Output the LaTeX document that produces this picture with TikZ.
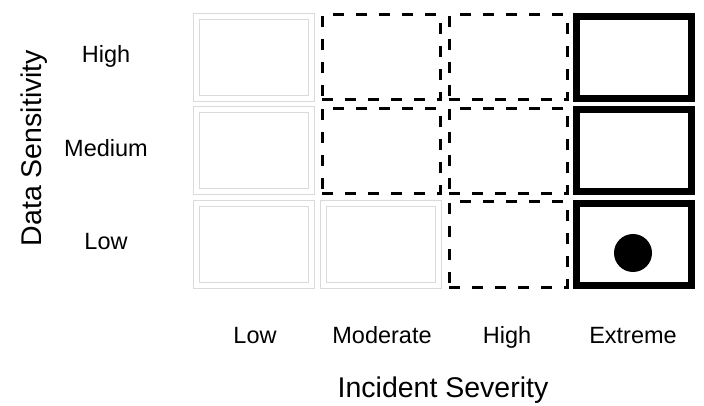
\documentclass[tikz,border=0pt]{standalone}
\usepackage{fontspec}
\setmainfont{Liberation Sans}
\usepackage{tikz}
\usepackage{xcolor}
\usetikzlibrary{positioning}
\definecolor{cellgray}{RGB}{218,218,218}

\begin{document}
\begin{tikzpicture}[x=1pt,y=-1pt,
  every node/.style={inner sep=0pt},
  lowcell/.style={rectangle,draw=cellgray,line width=1pt,double=white,double distance=5pt,minimum width=115pt,minimum height=82pt},
  midcell/.style={rectangle,draw=black,line width=3pt,dash pattern=on 11pt off 12pt,minimum width=118pt,minimum height=85pt},
  topcell/.style={rectangle,draw=black,line width=7pt,minimum width=115pt,minimum height=82pt},
  lbl/.style={anchor=base,font=\fontsize{23.5}{28}\selectfont},
  axis/.style={anchor=base,font=\fontsize{28.5}{34}\selectfont}]
\useasboundingbox (0,0) rectangle (704,406);
% cells, rows top to bottom
\node (hl) at (254,57.5) [lowcell]{};
\node (hm) at (381,57.5) [midcell]{};
\node (hh) at (508,57.5) [midcell]{};
\node (he) at (634,57.5) [topcell]{};
\node (ml) at (254,151) [lowcell]{};
\node (mm) at (381,151) [midcell]{};
\node (mh) at (508,151) [midcell]{};
\node (me) at (634,151) [topcell]{};
\node (ll) at (254,244.5) [lowcell]{};
\node (lm) at (381,244.5) [lowcell]{};
\node (lh) at (508,244.5) [midcell]{};
\node (le) at (634,244.5) [topcell]{};
\node (dot) at (633,253) [circle,fill=black,minimum size=38pt]{};
% row labels
\node (rowhigh) at (106,63) [lbl]{High};
\node (rowmed) at (106,157) [lbl]{Medium};
\node (rowlow) at (106,250) [lbl]{Low};
% column labels
\node (collow) at (255,343) [lbl]{Low};
\node (colmod) at (382,343) [lbl]{Moderate};
\node (colhigh) at (507,343) [lbl]{High};
\node (colext) at (633,343) [lbl]{Extreme};
% axis titles
\node (xtitle) at (443,397) [axis]{Incident Severity};
\node (ytitle) at (41,148) [axis,rotate=90]{Data Sensitivity};
\end{tikzpicture}
\end{document}
